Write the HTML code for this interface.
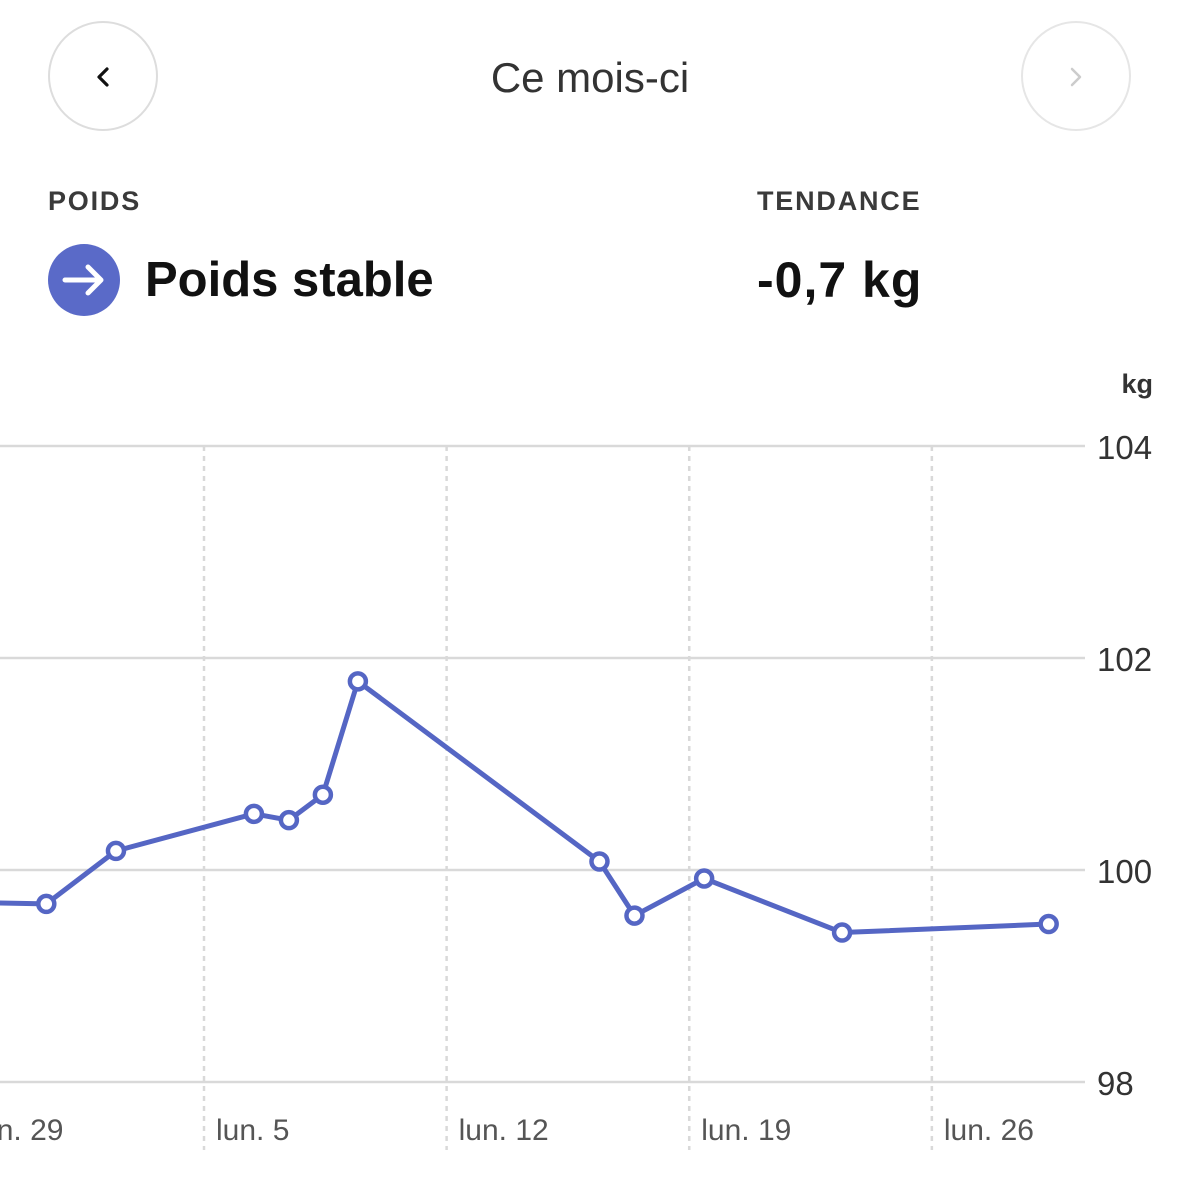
<!DOCTYPE html>
<html><head><meta charset="utf-8"><style>
body{margin:0;width:1179px;height:1179px;background:#fff;font-family:"Liberation Sans",sans-serif;overflow:hidden;position:relative}
.abs{position:absolute}
</style></head><body>
<div class="abs" style="left:48px;top:21px;width:106px;height:106px;border:2px solid #ddd;border-radius:50%;"></div>
<svg class="abs" style="left:92px;top:64px" width="24" height="26"><polyline points="15,5 7,13 15,21" fill="none" stroke="#111" stroke-width="3.2" stroke-linecap="round" stroke-linejoin="round"/></svg>
<div class="abs" style="left:1021px;top:21px;width:106px;height:106px;border:2px solid #e6e6e6;border-radius:50%;"></div>
<svg class="abs" style="left:1064px;top:64px" width="24" height="26"><polyline points="8,5 16,13 8,21" fill="none" stroke="#ccc" stroke-width="2.5" stroke-linecap="round" stroke-linejoin="round"/></svg>
<div class="abs" style="left:390px;width:400px;top:54px;text-align:center;font-size:42px;color:#333;">Ce mois-ci</div>
<div class="abs" style="left:48px;top:186px;font-size:27px;font-weight:bold;color:#3a3a3a;letter-spacing:1.8px">POIDS</div>
<div class="abs" style="left:757px;top:186px;font-size:27px;font-weight:bold;color:#3a3a3a;letter-spacing:1.8px">TENDANCE</div>
<svg class="abs" style="left:48px;top:243px" width="74" height="74"><circle cx="36" cy="37" r="36" fill="#5a6ac8"/><path d="M17 37H53M40 24L53 37L40 50" fill="none" stroke="#fff" stroke-width="5" stroke-linecap="round" stroke-linejoin="round"/></svg>
<div class="abs" style="left:145px;top:252px;font-size:49px;font-weight:bold;color:#111">Poids stable</div>
<div class="abs" style="left:757px;top:251px;font-size:50px;font-weight:bold;color:#111;letter-spacing:1px">-0,7 kg</div>
<svg class="abs" style="left:0;top:0" width="1179" height="1179" id="chart"></svg>
<script>
const yTicks=[104,102,100,98];
const weekLabels=["lun. 29","lun. 5","lun. 12","lun. 19","lun. 26"];
const weekDays=[-7,0,7,14,21];
const days=[-7.8,-4.55,-2.54,1.44,2.45,3.43,4.44,11.41,12.42,14.43,18.41,24.37];
const weights=[99.7,99.68,100.18,100.53,100.47,100.71,101.78,100.08,99.57,99.92,99.41,99.49];
const NS="http://www.w3.org/2000/svg";
const svg=document.getElementById('chart');
const X=d=>204+d*34.66;
const Y=v=>870-(v-100)*106;
function mk(t,a,p){const e=document.createElementNS(NS,t);for(const k in a)e.setAttribute(k,a[k]);(p||svg).appendChild(e);return e;}
yTicks.forEach(v=>{
 const l=mk('line',{x1:0,x2:1085,y1:Y(v),y2:Y(v),stroke:'#d9d9d9','stroke-width':2.5});
 
 
 const t=mk('text',{x:1097,y:Y(v)+13,'font-size':33,fill:'#333','font-family':'Liberation Sans'});
 t.textContent=v;
 
 
});
const u=mk('text',{x:1153,y:393,'font-size':27,'font-weight':'bold',fill:'#333','text-anchor':'end','font-family':'Liberation Sans'});
u.textContent='kg';


weekDays.forEach((d,i)=>{
 const x=X(d);
 if(i>0){const l=mk('line',{x1:x,x2:x,y1:446,y2:1150,stroke:'#d9d9d9','stroke-width':2.5,'stroke-dasharray':'5 5'});
 
 }
 const t=mk('text',{x:x+12,y:1140,'font-size':30,fill:'#555','font-family':'Liberation Sans'});
 t.textContent=weekLabels[i];
 
 
});
const pts=days.map((d,i)=>X(d)+','+Y(weights[i])).join(' ');
const pl=mk('polyline',{points:pts,fill:'none',stroke:'#5566c4','stroke-width':5,'stroke-linejoin':'round'});


days.forEach((d,i)=>{
 const c=mk('circle',{cx:X(d),cy:Y(weights[i]),r:8,fill:'#fff',stroke:'#5566c4','stroke-width':4.5});
 
 
});
</script>
</body></html>
